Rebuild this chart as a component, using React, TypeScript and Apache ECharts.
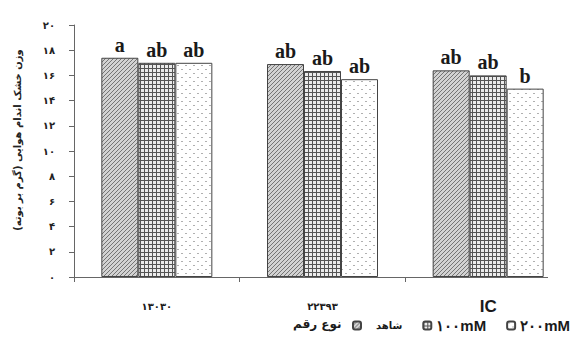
import React, { useEffect, useRef } from "react";
import * as echarts from "echarts";

const categories = ["۱۳۰۳۰", "۲۲۳۹۳", "IC"];
const seriesNames = ["شاهد", "۱۰۰mM", "۲۰۰mM"];
const controlValues = [17.4, 16.9, 16.4];
const mM100Values = [17.0, 16.35, 16.0];
const mM200Values = [17.0, 15.7, 14.95];
const controlLetters = ["a", "ab", "ab"];
const mM100Letters = ["ab", "ab", "ab"];
const mM200Letters = ["ab", "ab", "b"];
const yTickLabels = ["۰", "۲", "۴", "۶", "۸", "۱۰", "۱۲", "۱۴", "۱۶", "۱۸", "۲۰"];
const yAxisTitle = "وزن خشک اندام هوایی (گرم بر بوته)";
const legendTitle = "نوع رقم";

function makeCanvas(size: number, draw: (ctx: CanvasRenderingContext2D) => void) {
  const c = document.createElement("canvas");
  c.width = size;
  c.height = size;
  const ctx = c.getContext("2d")!;
  draw(ctx);
  return c;
}

function hatchPattern() {
  return makeCanvas(4, (ctx) => {
    ctx.fillStyle = "#d2d2d2";
    ctx.fillRect(0, 0, 4, 4);
    ctx.fillStyle = "#747474";
    for (let i = 0; i < 4; i++) ctx.fillRect(i, 3 - i, 1, 1);
  });
}
function gridPattern() {
  return makeCanvas(4, (ctx) => {
    ctx.fillStyle = "#ececec";
    ctx.fillRect(0, 0, 4, 4);
    ctx.fillStyle = "#555555";
    ctx.fillRect(0, 0, 4, 1);
    ctx.fillRect(0, 0, 1, 4);
  });
}
function dotPattern() {
  return makeCanvas(8, (ctx) => {
    ctx.fillStyle = "#ffffff";
    ctx.fillRect(0, 0, 8, 8);
    ctx.fillStyle = "#b0b0b0";
    ctx.fillRect(1, 1, 2, 1);
    ctx.fillRect(5, 5, 2, 1);
  });
}

export default function App() {
  const ref = useRef<HTMLDivElement>(null);
  useEffect(() => {
    if (!ref.current) return;
    const chart = echarts.init(ref.current, undefined, { renderer: "svg" });
    const patterns = [hatchPattern(), gridPattern(), dotPattern()];
    const values = [controlValues, mM100Values, mM200Values];
    const letters = [controlLetters, mM100Letters, mM200Letters];
    const series = seriesNames.map((name, i) => ({
      name,
      type: "bar",
      data: values[i],
      barWidth: 37,
      barGap: "0%",
      itemStyle: {
        color: { image: patterns[i], repeat: "repeat" },
        borderColor: "#444",
        borderWidth: 1,
      },
      label: {
        show: true,
        position: "top",
        distance: 3,
        formatter: (p: any) => letters[i][p.dataIndex],
        fontFamily: "Liberation Serif",
        fontSize: 20,
        fontWeight: "bold",
        color: "#1a1a1a",
      },
    }));
    chart.setOption({
      animation: false,
      backgroundColor: "#ffffff",
      grid: { left: 74, top: 25, width: 500, height: 252 },
      xAxis: {
        type: "category",
        data: categories,
        axisLine: { show: false },
        axisTick: { show: true, length: 5, lineStyle: { color: "#666" } },
        axisLabel: {
          margin: 20,
          formatter: (v: string, idx: number) => (idx === 2 ? `{e|${v}}` : `{p|${v}}`),
          rich: {
            e: { fontFamily: "Liberation Sans", fontSize: 17, fontWeight: "bold", color: "#1a1a1a", lineHeight: 18 },
            p: { fontFamily: "DejaVu Sans", fontSize: 10, fontWeight: "bold", color: "#1a1a1a", lineHeight: 18 },
          },
        },
      },
      yAxis: {
        type: "value",
        min: 0,
        max: 20,
        interval: 2,
        name: yAxisTitle,
        nameLocation: "middle",
        nameGap: 52,
        nameTextStyle: {
          fontFamily: "DejaVu Sans",
          fontSize: 10,
          fontWeight: "bold",
          color: "#222",
          padding: [0, 0, 0, 22],
        },
        axisLine: { show: true, lineStyle: { color: "#666" } },
        axisTick: { show: true, length: 5, lineStyle: { color: "#666" } },
        splitLine: { show: false },
        axisLabel: {
          margin: 19,
          formatter: (v: number) => yTickLabels[Math.round(v / 2)],
          fontFamily: "DejaVu Sans",
          fontSize: 10,
          fontWeight: "bold",
          color: "#222",
        },
      },
      legend: {
        left: 352,
        top: 318,
        width: 260,
        padding: 0,
        itemWidth: 8,
        itemHeight: 8,
        itemGap: 20,
        textStyle: { fontFamily: "Liberation Sans", fontSize: 15, fontWeight: "bold", color: "#1a1a1a" },
        data: [
          { name: seriesNames[0], textStyle: { fontFamily: "DejaVu Sans", fontSize: 10, padding: [0, 0, 0, 10] } },
          { name: seriesNames[1] },
          { name: seriesNames[2] },
        ],
      },
      graphic: [
        {
          type: "line",
          shape: { x1: 74, y1: 277.5, x2: 548, y2: 277.5 },
          style: { stroke: "#666", lineWidth: 1 },
          silent: true,
        },
        {
          type: "text",
          left: 293,
          top: 318,
          style: {
            text: legendTitle,
            fontFamily: "DejaVu Sans",
            fontSize: 12,
            fontWeight: "bold",
            fill: "#1a1a1a",
          },
        },
      ],
      series,
    });
    return () => chart.dispose();
  }, []);
  return (
    <div
      ref={ref}
      style={{ position: "fixed", left: 0, top: 0, width: 571, height: 338, background: "#fff" }}
    />
  );
}
